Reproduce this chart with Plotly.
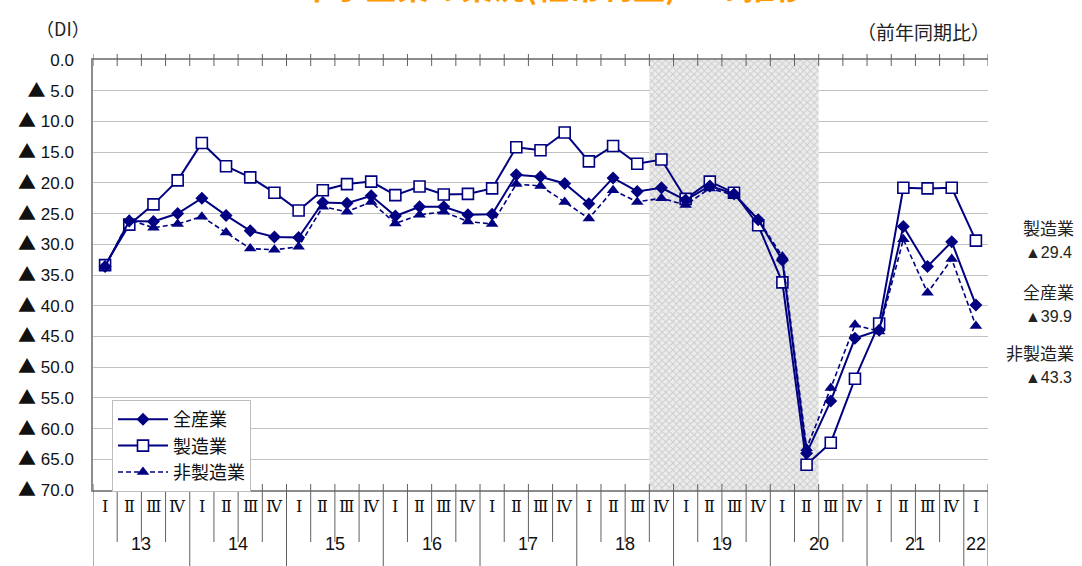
import plotly.graph_objects as go

# ---------------- data ----------------
years = ["13", "14", "15", "16", "17", "18", "19", "20", "21", "22"]
quarter_labels = ["Ⅰ", "Ⅱ", "Ⅲ", "Ⅳ"]
quarters_per_year = [4, 4, 4, 4, 4, 4, 4, 4, 4, 1]

all_industries = [-33.6, -26.2, -26.3, -25.0, -22.5, -25.3, -27.8, -28.8, -28.9,
                  -23.2, -23.3, -22.1, -25.4, -23.9, -23.9, -25.2, -25.1, -18.7,
                  -19.0, -20.1, -23.4, -19.2, -21.4, -20.8, -22.8, -20.5, -21.8,
                  -26.0, -32.6, -64.0, -55.5, -45.3, -44.0, -27.1, -33.6, -29.6,
                  -39.9]
manufacturing = [-33.4, -26.8, -23.5, -19.6, -13.5, -17.3, -19.1, -21.6, -24.5,
                 -21.2, -20.2, -19.8, -22.0, -20.6, -21.9, -21.8, -20.9, -14.2,
                 -14.7, -11.8, -16.5, -14.0, -16.9, -16.2, -22.6, -19.8, -21.6,
                 -26.9, -36.2, -65.9, -62.3, -51.9, -42.9, -20.8, -20.9, -20.8,
                 -29.4]
non_manufacturing = [-33.7, -26.0, -27.3, -26.7, -25.5, -28.1, -30.7, -30.9, -30.4,
                     -23.9, -24.7, -23.1, -26.6, -25.2, -24.7, -26.3, -26.7, -20.2,
                     -20.5, -23.1, -25.8, -21.2, -23.1, -22.5, -23.6, -20.9, -22.0,
                     -25.9, -32.0, -63.2, -53.4, -43.1, -44.2, -29.2, -37.9, -32.4,
                     -43.3]

# recession shading (first and last quarter, inclusive)
recession_start = ("18", 3)   # 2018 Q4 (0-based quarter index)
recession_end = ("20", 1)     # 2020 Q2

y_ticks = list(range(0, -75, -5))
TRI = "<span style='font-family:Noto Sans CJK JP;font-size:18px'>▲</span>"
y_ticktext = ["0.0"] + [TRI + " %.1f" % (-v) for v in y_ticks[1:]]

title_text = "中小企業の業況(経常利益)DIの推移"

# ---------------- derived ----------------
periods = []
for yr, n in zip(years, quarters_per_year):
    for q in range(n):
        periods.append((yr, q))
xs = list(range(len(periods)))
n_per = len(periods)

def idx(p):
    return periods.index(p)

rs, re_ = idx(recession_start) - 0.5, idx(recession_end) + 0.5

NAVY = "#000080"
JP = "Noto Sans CJK JP"
NUM = "Liberation Sans, Noto Sans CJK JP"
GRID = "#c0c0c0"
AX = "#8c8c8c"
H = 430.0

fig = go.Figure()

# shaded recession period
fig.add_trace(go.Scatter(
    x=[rs, re_, re_, rs, rs], y=[0, 0, -70, -70, 0],
    mode="lines", fill="toself", line=dict(width=0),
    fillcolor="#e4e4e4",
    fillpattern=dict(shape="x", size=5, solidity=0.35,
                     bgcolor="#ececec", fgcolor="#a8a8a8"),
    showlegend=False, hoverinfo="skip"))

fig.add_trace(go.Scatter(
    x=xs, y=manufacturing, name="製造業", mode="lines+markers",
    line=dict(color=NAVY, width=2),
    marker=dict(symbol="square", size=11, color="white",
                line=dict(color=NAVY, width=1.6)),
    legendrank=2))
fig.add_trace(go.Scatter(
    x=xs, y=non_manufacturing, name="非製造業", mode="lines+markers",
    line=dict(color=NAVY, width=1.6, dash="5px,3px"),
    marker=dict(symbol="triangle-up", size=11, color=NAVY),
    legendrank=3))
fig.add_trace(go.Scatter(
    x=xs, y=all_industries, name="全産業", mode="lines+markers",
    line=dict(color=NAVY, width=2),
    marker=dict(symbol="diamond", size=10, color=NAVY),
    legendrank=1))

shapes = []
year_bounds = []
c = 0
for n in quarters_per_year:
    year_bounds.append(c)
    c += n
year_bounds.append(c)
for k in range(n_per + 1):
    xb = k - 0.5
    shapes.append(dict(type="line", xref="x", yref="paper", x0=xb, x1=xb,
                       y0=1 + 6 / H, y1=1 - 6 / H, line=dict(color="#606060", width=1)))
    y1 = -76 / H if k in year_bounds else -52 / H
    shapes.append(dict(type="line", xref="x", yref="paper", x0=xb, x1=xb,
                       y0=6 / H, y1=y1, line=dict(color="#606060", width=1)))

annotations = []
for i, (yr, q) in enumerate(periods):
    annotations.append(dict(x=i, y=-28 / H, xref="x", yref="paper", text=quarter_labels[q],
                            showarrow=False, font=dict(family="DejaVu Serif, Liberation Serif",
                                                       size=16, color="#111")))
for j, yr in enumerate(years):
    cx = (year_bounds[j] + year_bounds[j + 1] - 1) / 2
    annotations.append(dict(x=cx, y=-66 / H, xref="x", yref="paper", text=yr,
                            showarrow=False, font=dict(family=NUM, size=18, color="#111")))

# headers
annotations.append(dict(x=0, y=1 + 32 / H, xref="paper", yref="paper",
                        text="（DI）", showarrow=False, xanchor="center", yanchor="middle",
                        xshift=-30, font=dict(family=JP, size=18, color="#222")))
annotations.append(dict(x=1, y=1 + 28 / H, xref="paper", yref="paper",
                        text="（前年同期比）", showarrow=False, xanchor="right", yanchor="middle",
                        font=dict(family=JP, size=19, color="#222"), xshift=4))
# title (cut off at top of frame)
annotations.append(dict(x=0.5, y=1 + 50 / H, xref="paper", yref="paper",
                        text="<b>" + title_text + "</b>", showarrow=False,
                        xanchor="center", yanchor="bottom", xshift=13,
                        font=dict(family=JP, size=32, color="#FF9900")))

# right-side end labels
end_labels = [("製造業", manufacturing[-1], 227), ("全産業", all_industries[-1], 291),
              ("非製造業", non_manufacturing[-1], 352)]
for name, val, py in end_labels:
    annotations.append(dict(x=1, y=(490 - py) / H, xref="paper", yref="paper",
                            text=name, showarrow=False, xanchor="right", yanchor="middle",
                            xshift=88, font=dict(family=JP, size=17, color="#222")))
    annotations.append(dict(x=1, y=(490 - py - 25) / H, xref="paper", yref="paper",
                            text="▲%.1f" % (-val), showarrow=False, xanchor="right",
                            yanchor="middle", xshift=86,
                            font=dict(family=NUM, size=16, color="#222")))

fig.update_layout(
    width=1082, height=566,
    margin=dict(l=93, r=94, t=60, b=76, autoexpand=False),
    paper_bgcolor="white", plot_bgcolor="white",
    showlegend=True,
    legend=dict(x=19 / 895, y=(490 - 400) / H, xanchor="left", yanchor="top",
                bgcolor="white", bordercolor="#bdbdbd", borderwidth=1,
                font=dict(family=JP, size=18, color="#111"),
                itemwidth=50, tracegroupgap=0),
    shapes=shapes, annotations=annotations,
    xaxis=dict(range=[-0.5, n_per - 0.5], showgrid=False, zeroline=False,
               showticklabels=False, ticks="", showline=True, mirror=True,
               linecolor=AX, linewidth=1.5, fixedrange=True),
    yaxis=dict(range=[-70, 0], tickvals=y_ticks, ticktext=y_ticktext,
               showgrid=True, gridcolor=GRID, gridwidth=1, zeroline=False,
               showline=True, linecolor=AX, linewidth=1.5, ticks="",
               ticklabelstandoff=14, automargin=False,
               tickfont=dict(family=NUM, size=17, color="#111")),
)

fig.write_html("out.html", config={"displayModeBar": False},
               post_script="document.body.style.margin='0';document.body.style.padding='0';")
